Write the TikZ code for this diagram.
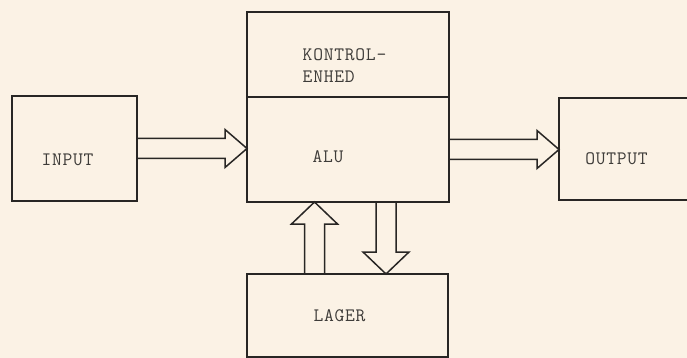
\documentclass[tikz,border=0pt]{standalone}
\usepackage{fontspec}
\usepackage{tikz}
\usepackage{xcolor}
\usetikzlibrary{calc,positioning}
\newfontfamily\typewriter{Latin Modern Mono}[LetterSpace=4]
\definecolor{paperCream}{RGB}{251,242,229}
\definecolor{inkLine}{RGB}{40,38,36}
\definecolor{inkType}{RGB}{62,60,57}
\tikzset{
  box/.style={draw=inkLine,line width=1.5pt,outer sep=0pt,inner sep=0pt},
  lbl/.style={font=\typewriter\fontsize{19}{22}\selectfont,text=inkType,inner sep=0pt,align=left},
  fatline/.style={draw=inkLine,line width=1.5pt,line join=miter}
}
% hollow arrow, left to right
\newcommand{\FatArrowH}[2]{%
  \draw[fatline] ($(#1)+(0,-10)$) -- ($(#1 -| #2)+(-22,-10)$) -- ++(0,-9) -- (#1 -| #2)
    -- ($(#1 -| #2)+(-22,19)$) -- ++(0,-9) -- ($(#1)+(0,10)$);}
% hollow arrow, vertical: #3 = 1 goes down, -1 goes up
\newcommand{\FatArrowV}[3]{%
  \draw[fatline] ($(#1)+(-10,0)$) -- ($(#1 |- #2)+({-10},{-22*#3})$) -- ++(-13,0) -- (#1 |- #2)
    -- ($(#1 |- #2)+({23},{-22*#3})$) -- ++(-13,0) -- ($(#1)+(10,0)$);}

\begin{document}
\begin{tikzpicture}[x=1pt,y=-1pt]
  \useasboundingbox (0,0) rectangle (687,358);
  \fill[paperCream] (0,0) rectangle (687,358);
  \clip (0,0) rectangle (687,358);

  % boxes
  \node[box,minimum width=125pt,minimum height=105pt] (input) at (74.5,148.5) {};
  \node[box,minimum width=202pt,minimum height=85pt] (kontrol) at (348,54.5) {};
  \node[box,minimum width=202pt,minimum height=105pt,below=0pt of kontrol] (alu) {};
  \node[box,minimum width=141pt,minimum height=102pt] (output) at (629.5,149) {};
  \node[box,minimum width=201pt,minimum height=83pt] (lager) at (347.5,315.5) {};

  % texts
  \node[lbl] (inputtxt) at (67.5,160) {INPUT};
  \node[lbl] (kontroltxt) at (344.5,66) {KONTROL-\\ENHED};
  \node[lbl] (alutxt) at (328,157) {ALU};
  \node[lbl] (outputtxt) at (616.5,159) {OUTPUT};
  \node[lbl] (lagertxt) at (339.5,316) {LAGER};

  % data paths
  \coordinate (upfoot) at ([xshift=-33pt]lager.north);
  \coordinate (downtop) at ([xshift=38pt]alu.south);
  \FatArrowH{input.east}{alu.west}
  \FatArrowH{alu.east}{output.west}
  \FatArrowV{upfoot}{alu.south}{-1}
  \FatArrowV{downtop}{lager.north}{1}
\end{tikzpicture}
\end{document}
